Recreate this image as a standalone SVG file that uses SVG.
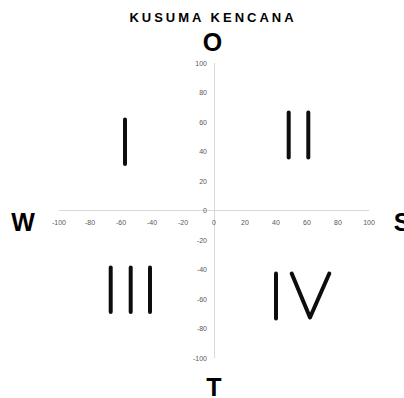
<svg xmlns="http://www.w3.org/2000/svg" width="404" height="398" viewBox="0 0 404 398">
  <style>
    .title { font-family: "Liberation Sans", Arial, sans-serif; font-weight: bold; font-size: 13px; letter-spacing: 3px; fill: #000; }
    .dir { font-family: "Liberation Sans", Arial, sans-serif; font-weight: bold; font-size: 25px; fill: #000; text-anchor: middle; }
    .tick { font-family: "Liberation Sans", Arial, sans-serif; font-size: 7px; fill: #595959; }
    .tx { text-anchor: middle; }
    .ty { text-anchor: end; }
    .axis { stroke: #d9d9d9; stroke-width: 1; fill: none; }
    .numeral { stroke: #0d0d0d; stroke-width: 4; stroke-linecap: round; stroke-linejoin: round; fill: none; }
  </style>
  <rect width="404" height="398" fill="#fff"/>

  <text class="title" x="213" y="22" text-anchor="middle">KUSUMA KENCANA</text>

  <!-- compass letters -->
  <g id="north"><text class="dir" x="212.5" y="51">O</text></g>
  <g id="west"><text class="dir" x="23" y="230.5">W</text></g>
  <g id="east"><text class="dir" x="402" y="230.5">S</text></g>
  <g id="south"><text class="dir" x="214" y="396">T</text></g>

  <!-- axes -->
  <g id="axes">
    <line class="axis" x1="59" y1="210.5" x2="369" y2="210.5"/>
    <line class="axis" x1="214.5" y1="63" x2="214.5" y2="358"/>
  </g>

  <!-- horizontal tick labels -->
  <g id="x-labels" class="tick tx">
    <text x="59" y="225">-100</text>
    <text x="90" y="225">-80</text>
    <text x="121" y="225">-60</text>
    <text x="152" y="225">-40</text>
    <text x="183" y="225">-20</text>
    <text x="214" y="225">0</text>
    <text x="245" y="225">20</text>
    <text x="276" y="225">40</text>
    <text x="307" y="225">60</text>
    <text x="338" y="225">80</text>
    <text x="369" y="225">100</text>
  </g>

  <!-- vertical tick labels -->
  <g id="y-labels" class="tick ty">
    <text x="207" y="65.5">100</text>
    <text x="207" y="95">80</text>
    <text x="207" y="124.5">60</text>
    <text x="207" y="154">40</text>
    <text x="207" y="183.5">20</text>
    <text x="207" y="213">0</text>
    <text x="207" y="242.5">-20</text>
    <text x="207" y="272">-40</text>
    <text x="207" y="301.5">-60</text>
    <text x="207" y="331">-80</text>
    <text x="207" y="360.5">-100</text>
  </g>

  <!-- quadrant numerals -->
  <g id="quadrant-I" class="numeral">
    <line x1="125" y1="119.5" x2="125" y2="164"/>
  </g>
  <g id="quadrant-II" class="numeral">
    <line x1="288.7" y1="112.5" x2="288.7" y2="157.5"/>
    <line x1="308.3" y1="112.5" x2="308.3" y2="157.5"/>
  </g>
  <g id="quadrant-III" class="numeral">
    <line x1="110.7" y1="267.5" x2="110.7" y2="312"/>
    <line x1="130.7" y1="267.5" x2="130.7" y2="312"/>
    <line x1="150" y1="267.5" x2="150" y2="312"/>
  </g>
  <g id="quadrant-IV" class="numeral">
    <line x1="276" y1="273.5" x2="276" y2="318.5"/>
    <polyline points="291.7,273.5 310,317.5 329.3,273.5"/>
  </g>
</svg>
